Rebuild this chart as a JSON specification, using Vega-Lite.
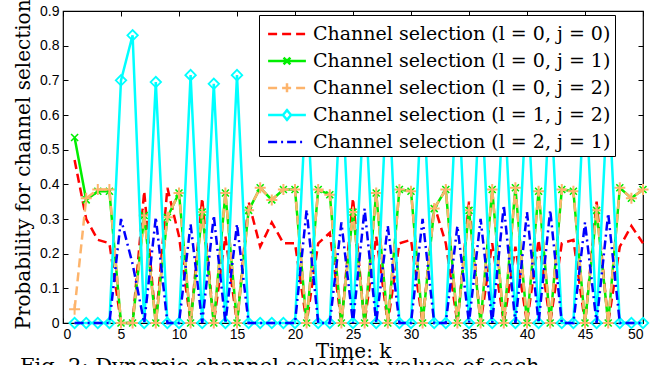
{
 "$schema": "https://vega.github.io/schema/vega-lite/v6.json",
 "width": 580, "height": 312,
 "autosize": {"type": "none"},
 "padding": {"left": 63, "top": 11, "right": 22, "bottom": 42},
 "background": "white",
 "config": {
  "view": {"stroke": "black", "strokeWidth": 1.2},
  "axis": {"grid": false, "domain": false, "tickColor": "black", "tickWidth": 1, "tickSize": -5,
   "labelFont": "Liberation Sans", "labelFontSize": 14, "labelColor": "black",
   "titleFont": "DejaVu Serif", "titleFontSize": 20, "titleFontWeight": "normal", "titleColor": "black"}
 },
 "title": {"text": "Fig. 2: Dynamic channel selection values of each", "orient": "bottom", "anchor": "start", "frame": "group",
  "font": "DejaVu Serif", "fontSize": 21, "fontWeight": "normal", "color": "black", "dx": -43, "offset": 0, "dy": -5},
 "data": {"values": [
  {"k":1,"r":0.47,"g":0.535,"o":0.04,"c":0,"b":0},
  {"k":2,"r":0.30,"g":0.355,"o":0.36,"c":0,"b":0},
  {"k":3,"r":0.24,"g":0.38,"o":0.385,"c":0,"b":0},
  {"k":4,"r":0.23,"g":0.38,"o":0.385,"c":0,"b":0},
  {"k":5,"r":0,"g":0,"o":0,"c":0.70,"b":0.30},
  {"k":6,"r":0,"g":0,"o":0,"c":0.83,"b":0.17},
  {"k":7,"r":0.38,"g":0.31,"o":0.31,"c":0,"b":0},
  {"k":8,"r":0,"g":0,"o":0,"c":0.695,"b":0.305},
  {"k":9,"r":0.39,"g":0.305,"o":0.305,"c":0,"b":0},
  {"k":10,"r":0.25,"g":0.375,"o":0.375,"c":0,"b":0},
  {"k":11,"r":0,"g":0,"o":0,"c":0.715,"b":0.285},
  {"k":12,"r":0.36,"g":0.32,"o":0.32,"c":0,"b":0},
  {"k":13,"r":0,"g":0,"o":0,"c":0.69,"b":0.31},
  {"k":14,"r":0.25,"g":0.375,"o":0.375,"c":0,"b":0},
  {"k":15,"r":0,"g":0,"o":0,"c":0.715,"b":0.285},
  {"k":16,"r":0.35,"g":0.325,"o":0.325,"c":0,"b":0},
  {"k":17,"r":0.22,"g":0.39,"o":0.39,"c":0,"b":0},
  {"k":18,"r":0.29,"g":0.355,"o":0.355,"c":0,"b":0},
  {"k":19,"r":0.23,"g":0.385,"o":0.385,"c":0,"b":0},
  {"k":20,"r":0.23,"g":0.385,"o":0.385,"c":0,"b":0},
  {"k":21,"r":0,"g":0,"o":0,"c":0.674,"b":0.326},
  {"k":22,"r":0.23,"g":0.385,"o":0.385,"c":0,"b":0},
  {"k":23,"r":0.26,"g":0.37,"o":0.37,"c":0,"b":0},
  {"k":24,"r":0,"g":0,"o":0,"c":0.71,"b":0.29},
  {"k":25,"r":0.36,"g":0.32,"o":0.32,"c":0,"b":0},
  {"k":26,"r":0,"g":0,"o":0,"c":0.67,"b":0.33},
  {"k":27,"r":0.25,"g":0.375,"o":0.375,"c":0,"b":0},
  {"k":28,"r":0,"g":0,"o":0,"c":0.72,"b":0.28},
  {"k":29,"r":0.23,"g":0.385,"o":0.385,"c":0,"b":0},
  {"k":30,"r":0.24,"g":0.38,"o":0.38,"c":0,"b":0},
  {"k":31,"r":0,"g":0,"o":0,"c":0.70,"b":0.30},
  {"k":32,"r":0.34,"g":0.33,"o":0.33,"c":0,"b":0},
  {"k":33,"r":0.23,"g":0.385,"o":0.385,"c":0,"b":0},
  {"k":34,"r":0,"g":0,"o":0,"c":0.72,"b":0.28},
  {"k":35,"r":0.35,"g":0.325,"o":0.325,"c":0,"b":0},
  {"k":36,"r":0,"g":0,"o":0,"c":0.70,"b":0.30},
  {"k":37,"r":0.23,"g":0.385,"o":0.385,"c":0,"b":0},
  {"k":38,"r":0,"g":0,"o":0,"c":0.66,"b":0.34},
  {"k":39,"r":0.22,"g":0.39,"o":0.39,"c":0,"b":0},
  {"k":40,"r":0,"g":0,"o":0,"c":0.68,"b":0.32},
  {"k":41,"r":0.24,"g":0.38,"o":0.38,"c":0,"b":0},
  {"k":42,"r":0,"g":0,"o":0,"c":0.674,"b":0.326},
  {"k":43,"r":0.23,"g":0.385,"o":0.385,"c":0,"b":0},
  {"k":44,"r":0.24,"g":0.38,"o":0.38,"c":0,"b":0},
  {"k":45,"r":0,"g":0,"o":0,"c":0.71,"b":0.29},
  {"k":46,"r":0.35,"g":0.325,"o":0.325,"c":0,"b":0},
  {"k":47,"r":0,"g":0,"o":0,"c":0.684,"b":0.316},
  {"k":48,"r":0.22,"g":0.39,"o":0.39,"c":0,"b":0},
  {"k":49,"r":0.28,"g":0.36,"o":0.36,"c":0,"b":0},
  {"k":50,"r":0.23,"g":0.385,"o":0.385,"c":0,"b":0}
 ]},
 "layer": [
  {"mark": {"type": "line", "color": "#ff0000", "strokeWidth": 2.5, "strokeDash": [9,5]},
   "encoding": {
    "x": {"field": "k", "type": "quantitative", "scale": {"domain": [0,50], "nice": false},
     "axis": {"orient": "bottom", "values": [0,5,10,15,20,25,30,35,40,45,50], "title": "Time: k", "titleX": 290, "titleY": 34, "titleBaseline": "alphabetic", "labelPadding": 9}},
    "y": {"field": "r", "type": "quantitative", "scale": {"domain": [0,0.9], "nice": false},
     "axis": {"orient": "left", "values": [0,0.1,0.2,0.3,0.4,0.5,0.6,0.7,0.8,0.9], "labelExpr": "datum.value == 0 ? '0' : format(datum.value, '.1f')",
      "title": "Probability for channel selection", "titleX": -40, "titleY": 153, "titleAngle": -90, "titleBaseline": "middle", "titleAlign": "center", "labelPadding": 9}}
   }},
  {"mark": {"type": "line", "color": "#00ee00", "strokeWidth": 2.5},
   "encoding": {
    "x": {"field": "k", "type": "quantitative", "axis": {"orient": "top", "values": [0,5,10,15,20,25,30,35,40,45,50], "labels": false, "title": null}},
    "y": {"field": "g", "type": "quantitative", "axis": {"orient": "right", "values": [0,0.1,0.2,0.3,0.4,0.5,0.6,0.7,0.8,0.9], "labels": false, "title": null}}
   }},
  {"mark": {"type": "point", "shape": "M-1,-1L1,1M-1,1L1,-1", "size": 49, "filled": false, "stroke": "#00ee00", "strokeWidth": 1.6, "opacity": 1},
   "encoding": {
    "x": {"field": "k", "type": "quantitative", "axis": null},
    "y": {"field": "g", "type": "quantitative", "axis": null}
   }},
  {"mark": {"type": "line", "color": "#fdb46c", "strokeWidth": 2.5, "strokeDash": [9,5]},
   "encoding": {
    "x": {"field": "k", "type": "quantitative", "axis": null},
    "y": {"field": "o", "type": "quantitative", "axis": null}
   }},
  {"mark": {"type": "point", "shape": "M-1,0H1M0,-1V1", "size": 121, "filled": false, "stroke": "#fdb46c", "strokeWidth": 2, "opacity": 1},
   "encoding": {
    "x": {"field": "k", "type": "quantitative", "axis": null},
    "y": {"field": "o", "type": "quantitative", "axis": null}
   }},
  {"mark": {"type": "line", "color": "#00ffff", "strokeWidth": 2.5},
   "encoding": {
    "x": {"field": "k", "type": "quantitative", "axis": null},
    "y": {"field": "c", "type": "quantitative", "axis": null}
   }},
  {"mark": {"type": "point", "shape": "diamond", "size": 110, "filled": false, "stroke": "#00ffff", "strokeWidth": 1.8, "opacity": 1},
   "encoding": {
    "x": {"field": "k", "type": "quantitative", "axis": null},
    "y": {"field": "c", "type": "quantitative", "axis": null}
   }},
  {"mark": {"type": "line", "color": "#0000ff", "strokeWidth": 2.5, "strokeDash": [9,4,2,4]},
   "encoding": {
    "x": {"field": "k", "type": "quantitative", "axis": null},
    "y": {"field": "b", "type": "quantitative", "axis": null}
   }},
  {"transform": [{"fold": ["r","g","o","c","b"], "as": ["s","v"]}, {"filter": "datum.k < 0"}],
   "mark": {"type": "point", "filled": false, "strokeWidth": 2.5, "opacity": 1},
   "encoding": {
    "x": {"field": "k", "type": "quantitative", "axis": null},
    "y": {"field": "v", "type": "quantitative", "axis": null},
    "color": {"field": "s", "type": "nominal",
     "scale": {"domain": ["r","g","o","c","b"], "range": ["#ff0000","#00ee00","#fdb46c","#00ffff","#0000ff"]},
     "legend": {"orient": "none", "legendX": 196, "legendY": 4, "title": null, "labelFont": "DejaVu Serif", "labelFontSize": 19, "labelColor": "black", "labelLimit": 500,
      "symbolSize": 729, "symbolStrokeWidth": 2.5, "symbolOffset": 9, "strokeColor": "black", "fillColor": "white", "padding": 4, "rowPadding": 2, "labelOffset": 11,
      "labelExpr": "datum.label == 'r' ? 'Channel selection (l = 0, j = 0)' : datum.label == 'g' ? 'Channel selection (l = 0, j = 1)' : datum.label == 'o' ? 'Channel selection (l = 0, j = 2)' : datum.label == 'c' ? 'Channel selection (l = 1, j = 2)' : 'Channel selection (l = 2, j = 1)'"}},
    "shape": {"field": "s", "type": "nominal",
     "scale": {"domain": ["r","g","o","c","b"], "range": ["M-1.4,0H1.4", "M-1.4,0H1.4M-0.25,-0.25L0.25,0.25M-0.25,0.25L0.25,-0.25", "M-1.4,0H1.4M0,-0.36V0.36", "M-1.4,0H-0.3M0.3,0H1.4M-0.3,0L0,-0.36L0.3,0L0,0.36Z", "M-1.4,0H1.4"]}},
    "strokeDash": {"field": "s", "type": "nominal",
     "scale": {"domain": ["r","g","o","c","b"], "range": [[9,5],[1,0],[9,5],[1,0],[9,4,2,4]]}}
   }}
 ],
 "resolve": {"axis": {"x": "independent", "y": "independent"}}
}
